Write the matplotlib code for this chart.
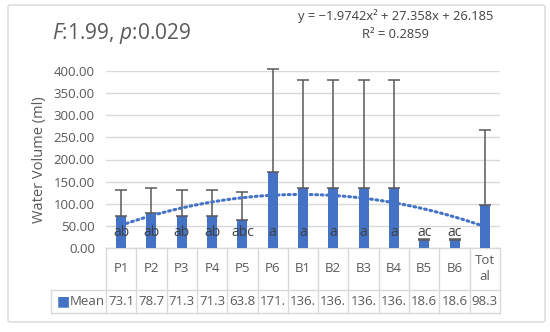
import numpy as np
import matplotlib.pyplot as plt
from matplotlib.patches import FancyBboxPatch
from matplotlib.transforms import blended_transform_factory

# data
groups = ["P1", "P2", "P3", "P4", "P5", "P6", "B1", "B2", "B3", "B4", "B5", "B6", "Total"]
header = ["P1", "P2", "P3", "P4", "P5", "P6", "B1", "B2", "B3", "B4", "B5", "B6", "Tot\nal"]
means = [73.1, 78.7, 71.3, 71.3, 63.8, 171.3, 136.4, 136.4, 136.4, 136.4, 18.6, 18.6, 98.3]
errors = [59, 57, 60, 60, 62, 233, 243, 243, 243, 243, 2, 2, 169]
letters = ["ab", "ab", "ab", "ab", "abc", "a", "a", "a", "a", "a", "ac", "ac", ""]
trend_coef = [-1.9742, 27.358, 26.185]   # y = a x^2 + b x + c (Excel trendline)
r2 = 0.2859

plt.rcParams['font.family'] = ['Open Sans', 'DejaVu Sans']
plt.rcParams['mathtext.fontset'] = 'custom'
plt.rcParams['mathtext.it'] = 'Open Sans:italic'
plt.rcParams['mathtext.rm'] = 'Open Sans'
blue = "#4472C4"
grey_txt = "#595959"
line_c = "#D9D9D9"

fig = plt.figure(figsize=(5.5, 3.32), dpi=100)
frame = FancyBboxPatch((8 / 550, 10 / 332), 537 / 550, 317 / 332,
                       boxstyle="round,pad=0,rounding_size=0.005",
                       transform=fig.transFigure, fc="white",
                       ec=line_c, lw=1, zorder=-10)
fig.patches.append(frame)

ax = fig.add_axes([106 / 550, 84 / 332, 394 / 550, 177 / 332])
ax.patch.set_alpha(0)
x = np.arange(1, len(groups) + 1)

ax.bar(x, means, width=0.33, color=blue, zorder=3)
ax.errorbar(x, means, yerr=[np.zeros(len(x)), errors], fmt="none",
            ecolor="#595959", elinewidth=1.1, capsize=4, capthick=1.1,
            zorder=4, clip_on=False)

xt = np.linspace(1, 13, 100)
ax.plot(xt, np.polyval(trend_coef, xt), linestyle=(0, (0.6, 1.2)),
        color=blue, lw=2.2, dash_capstyle="round", zorder=5)

for xi, lab in zip(x, letters):
    ax.text(xi, 34, lab, ha="center", va="center", fontsize=10,
            color="#404040", zorder=6)

ax.set_xlim(0.5, 13.5)
ax.set_ylim(0, 400)
ax.set_yticks(np.arange(0, 401, 50))
ax.set_yticklabels([f"{v:.2f}" for v in np.arange(0, 401, 50)],
                   fontsize=9.5, color=grey_txt)
ax.tick_params(axis="y", length=0, pad=8)
ax.set_xticks([])
for s in ax.spines.values():
    s.set_visible(False)
ax.grid(axis="y", color=line_c, lw=1, zorder=0)
ax.set_ylabel("Water Volume (ml)", fontsize=10.5, color=grey_txt, labelpad=5)

# data table under the plot
tr = blended_transform_factory(ax.transData, ax.transAxes)
h1 = -42 / 177
h2 = -65 / 177
xl = 0.5 - 55 / 30.3
kw = dict(transform=tr, color=line_c, lw=1, clip_on=False)
ax.plot([0.5, 13.5], [0, 0], **kw)
ax.plot([xl, 13.5], [h1, h1], **kw)
ax.plot([xl, 13.5], [h2, h2], **kw)
ax.plot([xl, xl], [h1, h2], **kw)
for b in np.arange(0.5, 14, 1):
    ax.plot([b, b], [0, h2], **kw)

for xi, hd, m in zip(x, header, means):
    ax.text(xi, h1 / 2, hd, transform=tr, ha="center", va="center",
            fontsize=9.5, color=grey_txt, linespacing=1.3)
    ax.text(xi, (h1 + h2) / 2, f"{m:.1f}"[:4], transform=tr, ha="center",
            va="center", fontsize=9.5, color=grey_txt)
ax.text(xl + 0.2, (h1 + h2) / 2, "\u25A0", transform=tr, ha="left",
        va="center", fontsize=10, color=blue, family="DejaVu Sans")
ax.text(xl + 0.62, (h1 + h2) / 2, "Mean", transform=tr, ha="left",
        va="center", fontsize=9.5, color=grey_txt)

fig.text(52 / 550, 1 - 34 / 332, r"$\it{F}$:1.99, $\it{p}$:0.029",
         fontsize=15, color=grey_txt, va="center", ha="left")
fig.text(396 / 550, 1 - 16 / 332, "y = \u22121.9742x\u00b2 + 27.358x + 26.185",
         fontsize=9.3, color="#404040", ha="center", va="center")
fig.text(396 / 550, 1 - 35 / 332, f"R\u00b2 = {r2}",
         fontsize=9.3, color="#404040", ha="center", va="center")

fig.savefig("out.png", dpi=100)
